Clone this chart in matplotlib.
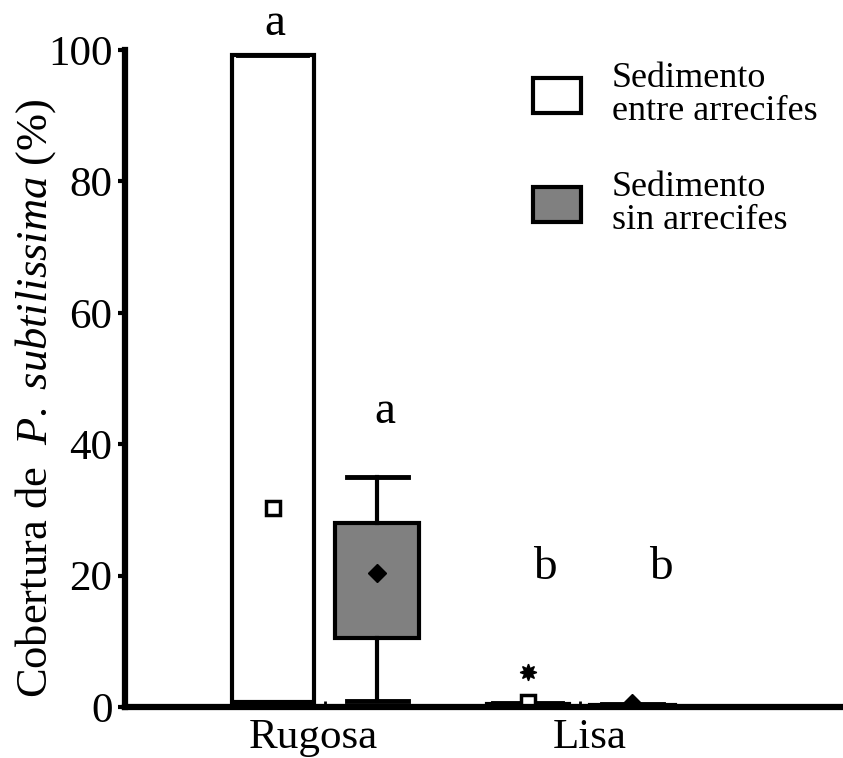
import matplotlib
matplotlib.use("Agg")
import matplotlib.pyplot as plt
import matplotlib.patches as mpatches
from matplotlib.transforms import ScaledTranslation

plt.rcParams["font.family"] = "Liberation Serif"
plt.rcParams["mathtext.fontset"] = "custom"
plt.rcParams["mathtext.rm"] = "Liberation Serif"
plt.rcParams["mathtext.it"] = "Liberation Serif:italic"

# ---- data -------------------------------------------------------------
categories = ["Rugosa", "Lisa"]
series_labels = ["Sedimento\nentre arrecifes", "Sedimento\nsin arrecifes"]

# sediment between reefs
entre_whislo = [0.8, 0.0]
entre_q1 = [0.8, 0.0]
entre_med = [0.8, 0.0]
entre_q3 = [99.2, 0.5]
entre_whishi = [99.2, 0.6]
entre_mean = [30.3, 0.8]
entre_fliers = [[], [5.3]]

# sediment without reefs
sin_whislo = [0.9, 0.0]
sin_q1 = [10.5, 0.0]
sin_med = [10.5, 0.0]
sin_q3 = [28.0, 0.3]
sin_whishi = [35.0, 0.5]
sin_mean = [20.4, 0.6]
sin_fliers = [[], []]

# significance letters
entre_letters = ["a", "b"]
sin_letters = ["a", "b"]

y_ticks = [0, 20, 40, 60, 80, 100]

# ---- layout -----------------------------------------------------------
entre_letter_y = [102.3, 19.5]
sin_letter_y = [43.2, 19.5]
entre_letter_dx = [0.01, 0.065]
sin_letter_dx = [0.03, 0.11]
xlabel_shift_px = [-12, 9]
group_pos = [1.0, 2.0]
offset = 0.205


def make_stats(whislo, q1, med, q3, whishi, mean, fliers):
    return [dict(whislo=a, q1=b, med=c, q3=d, whishi=e, mean=f, fliers=g)
            for a, b, c, d, e, f, g in zip(whislo, q1, med, q3, whishi, mean, fliers)]


fig = plt.figure(figsize=(8.43, 7.58), dpi=100)
ax = fig.add_axes([125 / 843, 51 / 758, 718 / 843, 657 / 758])

lw = 3.0
common = dict(
    showmeans=True,
    patch_artist=True,
    whiskerprops=dict(color="black", linewidth=lw),
    capprops=dict(color="black", linewidth=lw + 0.5),
    medianprops=dict(linewidth=0),
    flierprops=dict(marker=(8, 1, 0), markersize=12, markerfacecolor="black",
                    markeredgecolor="black"),
    manage_ticks=False,
)

entre_pos = [p - offset for p in group_pos]
sin_pos = [p + offset for p in group_pos]

ax.bxp(make_stats(entre_whislo, entre_q1, entre_med, entre_q3, entre_whishi,
                  entre_mean, entre_fliers),
       positions=entre_pos, widths=0.32, capwidths=0.27,
       boxprops=dict(facecolor="white", edgecolor="black", linewidth=lw),
       meanprops=dict(marker="s", markersize=10, markerfacecolor="white",
                      markeredgecolor="black", markeredgewidth=2.5),
       **common)

ax.bxp(make_stats(sin_whislo, sin_q1, sin_med, sin_q3, sin_whishi,
                  sin_mean, sin_fliers),
       positions=sin_pos, widths=0.33, capwidths=0.24,
       boxprops=dict(facecolor="#808080", edgecolor="black", linewidth=lw),
       meanprops=dict(marker="D", markersize=9, markerfacecolor="black",
                      markeredgecolor="black"),
       **common)

for x, dx, y, t in zip(entre_pos, entre_letter_dx, entre_letter_y, entre_letters):
    ax.text(x + dx, y, t, ha="center", va="baseline", fontsize=34, clip_on=False)
for x, dx, y, t in zip(sin_pos, sin_letter_dx, sin_letter_y, sin_letters):
    ax.text(x + dx, y, t, ha="center", va="baseline", fontsize=34, clip_on=False)

ax.set_xlim(0.216, 3.03)
ax.set_ylim(0, 100)
ax.set_yticks(y_ticks)
ax.set_xticks(group_pos)
ax.set_xticklabels(categories)
ax.tick_params(axis="y", direction="out", length=5, width=3, labelsize=31, pad=4)
ax.tick_params(axis="x", direction="in", length=4, width=2, labelsize=31, pad=8)
for lab, dx in zip(ax.get_xticklabels(), xlabel_shift_px):
    lab.set_transform(lab.get_transform() + ScaledTranslation(dx / 100, 0, fig.dpi_scale_trans))

for side in ("top", "right"):
    ax.spines[side].set_visible(False)
for side in ("left", "bottom"):
    ax.spines[side].set_linewidth(4.5)
    ax.spines[side].set_color("black")

ax.set_ylabel(r"Cobertura de  $\mathit{P.\ subtilissima}$ (%)", fontsize=32)
ax.yaxis.set_label_coords(-0.094, 0.47)

handles = [
    mpatches.Patch(facecolor="white", edgecolor="black", linewidth=lw),
    mpatches.Patch(facecolor="#808080", edgecolor="black", linewidth=lw),
]
leg = ax.legend(handles, series_labels, loc="upper left",
                bbox_to_anchor=(533 / 843, 1 - 62 / 758), bbox_transform=fig.transFigure,
                frameon=False, fontsize=26, handlelength=1.33, handleheight=1.1,
                handletextpad=0.85, labelspacing=1.2, borderaxespad=0, borderpad=0)
for txt in leg.get_texts():
    txt.set_linespacing(1.0)

fig.savefig("out.png", dpi=100)
